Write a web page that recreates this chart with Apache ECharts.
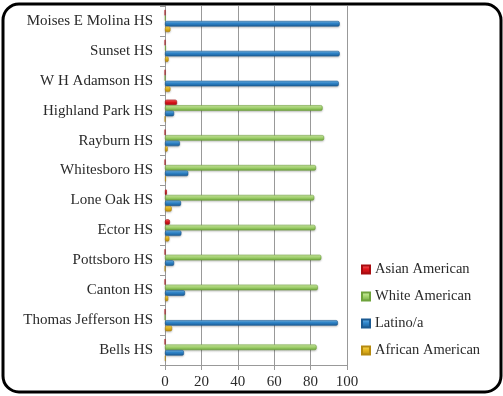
<!DOCTYPE html>
<html>
<head>
<meta charset="utf-8">
<script src="https://cdn.jsdelivr.net/npm/echarts@6/dist/echarts.min.js"></script>
<style>
    html, body { margin: 0; padding: 0; background: #fff; }
    #chart { width: 503px; height: 396px; }
</style>
</head>
<body>
<div id="chart"></div>
<script>
// schools, bottom to top as the axis runs
var schools = ['Bells HS', 'Thomas Jefferson HS', 'Canton HS', 'Pottsboro HS', 'Ector HS',
    'Lone Oak HS', 'Whitesboro HS', 'Rayburn HS', 'Highland Park HS', 'W H Adamson HS',
    'Sunset HS', 'Moises E Molina HS'];

var asianAmerican   = [0, 0, 0, 0, 2.7, 1, 0, 0, 6.6, 0, 0, 0];
var whiteAmerican   = [83.3, 0, 84, 85.9, 82.7, 82, 83, 87.4, 86.6, 0, 0.5, 0.3];
var latino          = [10.4, 95, 11, 5, 9, 8.8, 12.8, 8.2, 5, 95.5, 96, 96];
var africanAmerican = [0.3, 3.9, 1.8, 0, 2.4, 3.7, 0.5, 1.5, 0, 3, 2, 3];

var xTicks = [0, 20, 40, 60, 80, 100];

var serif = 'Liberation Serif';

function barStyle(light, mid, dark) {
    return {
        color: new echarts.graphic.LinearGradient(0, 0, 0, 1, [
            {offset: 0, color: light},
            {offset: 0.45, color: mid},
            {offset: 1, color: dark}
        ]),
        borderColor: dark,
        borderWidth: 0.6,
        borderRadius: 1.5,
        shadowColor: 'rgba(0,0,0,0.25)',
        shadowBlur: 2,
        shadowOffsetY: 1
    };
}

var myChart = echarts.init(document.getElementById('chart'));

var option = {
    backgroundColor: '#fff',
    animation: false,
    textStyle: { fontFamily: serif },
    graphic: [{
        type: 'rect',
        shape: { x: 3, y: 4, width: 498, height: 388, r: 16 },
        style: { fill: 'none', stroke: '#000', lineWidth: 3 },
        z: 100
    }],
    legend: {
        orient: 'vertical',
        left: 356,
        top: 257,
        itemWidth: 8,
        itemHeight: 8,
        itemGap: 12,
        icon: 'rect',
        textStyle: { fontFamily: serif, fontSize: 14.5, color: '#2a2a2a' },
        data: ['Asian American', 'White American', 'Latino/a', 'African American']
    },
    grid: {
        left: 165,
        right: 156,
        top: 6,
        bottom: 31
    },
    xAxis: {
        type: 'value',
        min: 0,
        max: 100,
        interval: 20,
        axisLine: { show: true, lineStyle: { color: '#999' } },
        axisTick: { show: true, length: 5, lineStyle: { color: '#999' } },
        axisLabel: {
            fontFamily: serif, fontSize: 15, color: '#2a2a2a', margin: 10,
            formatter: function (v) { return xTicks.indexOf(v) >= 0 ? String(v) : ''; }
        },
        splitLine: { show: true, lineStyle: { color: '#999', width: 1 } }
    },
    yAxis: {
        type: 'category',
        data: schools,
        axisLine: { show: true, lineStyle: { color: '#999' } },
        axisTick: { show: true, length: 5, lineStyle: { color: '#999' } },
        axisLabel: { fontFamily: serif, fontSize: 15, color: '#2a2a2a', margin: 12 }
    },
    series: [
        {
            name: 'Asian American', type: 'bar', data: asianAmerican,
            barGap: '0%', barCategoryGap: '26%',
            itemStyle: barStyle('#ff7a7a', '#e3161c', '#a80c10')
        },
        {
            name: 'White American', type: 'bar', data: whiteAmerican,
            barGap: '0%', barCategoryGap: '26%',
            itemStyle: barStyle('#dcf3b4', '#a7d872', '#6ea33c')
        },
        {
            name: 'Latino/a', type: 'bar', data: latino,
            barGap: '0%', barCategoryGap: '26%',
            itemStyle: barStyle('#7cc0f0', '#2f86cc', '#1b5a92')
        },
        {
            name: 'African American', type: 'bar', data: africanAmerican,
            barGap: '0%', barCategoryGap: '26%',
            itemStyle: barStyle('#fbe36a', '#e8b820', '#b58a10')
        }
    ]
};

myChart.setOption(option);
</script>
</body>
</html>
